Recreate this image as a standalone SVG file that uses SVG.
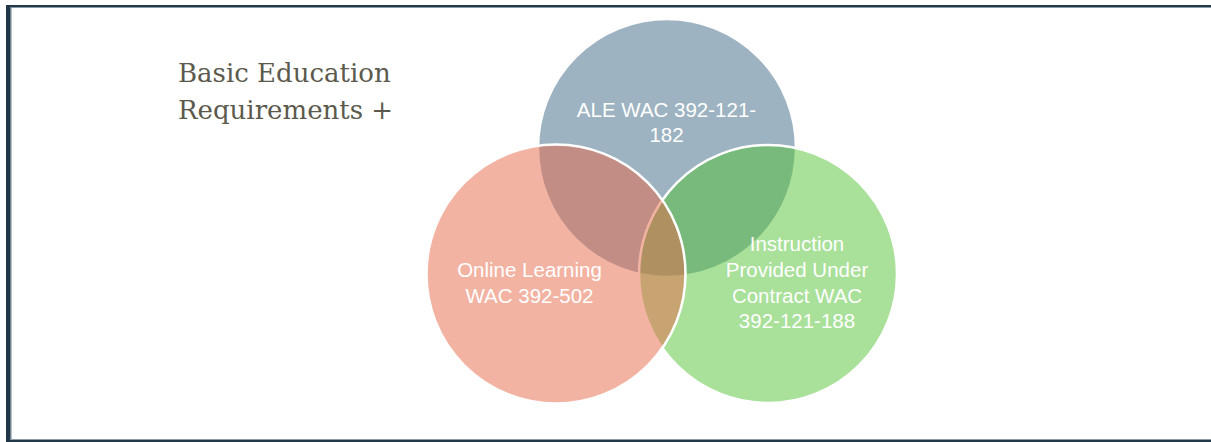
<svg xmlns="http://www.w3.org/2000/svg" width="1211" height="442" viewBox="0 0 1211 442">
  <style>
    .circ { fill-opacity: 0.5; stroke: #FFFFFF; stroke-width: 2.5; }
    .lbl { font-family: "Liberation Sans", Arial, sans-serif; font-size: 20.5px; fill: #FFFFFF; text-anchor: middle; }
    .title { font-family: "DejaVu Serif", "Liberation Serif", serif; font-size: 26px; fill: #5B5A4D; }
  </style>
  <rect x="0" y="0" width="1211" height="442" fill="#FFFFFF"/>
  <g id="frame">
    <rect x="6" y="5" width="1205" height="2" fill="#22394A"/>
    <rect x="10" y="7" width="1201" height="1" fill="#8A9AA6"/>
    <rect x="10" y="439" width="1201" height="1" fill="#8A9AA6"/>
    <rect x="6" y="440" width="1205" height="2" fill="#22394A"/>
    <rect x="6" y="5" width="4" height="437" fill="#1F3647"/>
    <rect x="10" y="7" width="1.5" height="432" fill="#6F8394"/>
  </g>
  <g id="title">
    <text class="title" x="178" y="82">Basic Education</text>
    <text class="title" x="178" y="119">Requirements +</text>
  </g>
  <g id="ale">
    <circle class="circ" cx="667" cy="148" r="129" fill="#3B6783"/>
  </g>
  <g id="contract">
    <circle class="circ" cx="768" cy="274" r="129" fill="#53C135"/>
  </g>
  <g id="online">
    <circle class="circ" cx="556" cy="274" r="129.5" fill="#E56747"/>
  </g>
  <g id="labels">
    <text class="lbl" x="666.5" y="117">ALE WAC 392-121-</text>
    <text class="lbl" x="666.5" y="142">182</text>
    <text class="lbl" x="529.5" y="277">Online Learning</text>
    <text class="lbl" x="529.5" y="303">WAC 392-502</text>
    <text class="lbl" x="797" y="251">Instruction</text>
    <text class="lbl" x="797" y="277">Provided Under</text>
    <text class="lbl" x="797" y="303">Contract WAC</text>
    <text class="lbl" x="797" y="328">392-121-188</text>
  </g>
  <g id="connectors"></g>
</svg>
